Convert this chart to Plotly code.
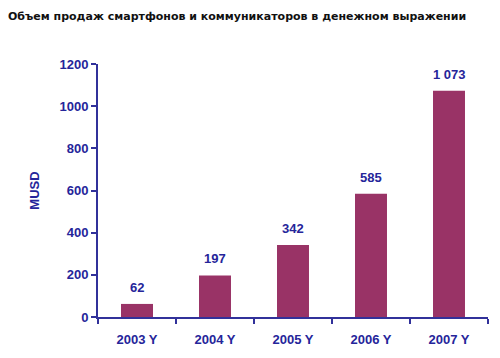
import plotly.graph_objects as go

categories = ["2003 Y", "2004 Y", "2005 Y", "2006 Y", "2007 Y"]
values = [62, 197, 342, 585, 1073]
labels = [f"{v:,}".replace(",", " ") for v in values]

axis_color = "#31319A"
text_color = "#25259A"
bar_color = "#993366"
font_family = "Liberation Sans"

fig = go.Figure(go.Bar(
    x=categories, y=values,
    marker=dict(color=bar_color, line=dict(width=0)),
    width=0.41,
))

for c, v, t in zip(categories, values, labels):
    fig.add_annotation(
        x=c, y=v, text=f"<b>{t}</b>", showarrow=False,
        yanchor="bottom", yshift=7,
        font=dict(family=font_family, size=13, color=text_color),
    )

fig.update_layout(
    width=500, height=358,
    margin=dict(l=90, r=20, t=56, b=49),
    paper_bgcolor="white", plot_bgcolor="white",
    showlegend=False,
    title=dict(text="<b>Объем продаж смартфонов и коммуникаторов в денежном выражении</b>",
               x=0.0, xanchor="left", y=1 - 8 / 358, yanchor="middle",
               font=dict(family="DejaVu Sans", size=11, color="#111111")),
    font=dict(family=font_family, color=text_color),
)
fig.update_xaxes(
    showline=True, linecolor=axis_color, linewidth=2,
    ticks="outside", ticklen=5, tickcolor=axis_color, tickwidth=2,
    tickson="boundaries", ticklabelstandoff=9,
    tickfont=dict(family=font_family, size=13, color=text_color, weight="bold"),
    showgrid=False,
)
fig.update_yaxes(
    range=[0, 1200], dtick=200,
    showline=True, linecolor=axis_color, linewidth=2,
    ticks="outside", ticklen=5, tickcolor=axis_color, tickwidth=2,
    tickfont=dict(family=font_family, size=13, color=text_color, weight="bold"),
    showgrid=False, zeroline=False,
    title=dict(text="MUSD", font=dict(family=font_family, size=13, color=text_color, weight="bold"), standoff=17),
)

fig.write_html("out.html")
